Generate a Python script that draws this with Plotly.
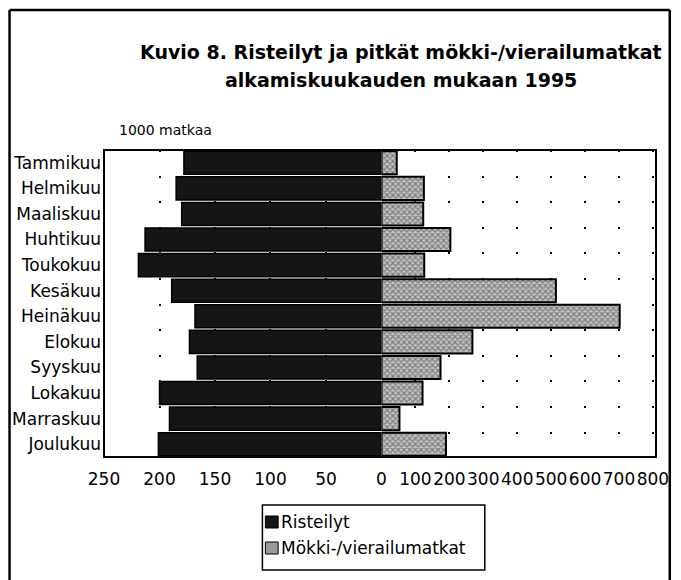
import plotly.graph_objects as go

months = ["Tammikuu", "Helmikuu", "Maaliskuu", "Huhtikuu", "Toukokuu", "Kesäkuu",
          "Heinäkuu", "Elokuu", "Syyskuu", "Lokakuu", "Marraskuu", "Joulukuu"]
risteilyt = [178, 185, 180, 213, 219, 189, 168, 173, 166, 200, 191, 201]
mokki = [45, 125, 123, 203, 126, 514, 702, 268, 174, 121, 53, 190]

left_ticks = [250, 200, 150, 100, 50, 0]
right_ticks = [100, 200, 300, 400, 500, 600, 700, 800]

title1 = "Kuvio 8. Risteilyt ja pitkät mökki-/vierailumatkat"
title2 = "alkamiskuukauden mukaan 1995"
unit_label = "1000 matkaa"
series_names = ["Risteilyt", "Mökki-/vierailumatkat"]

W, H = 681, 580
PL, PR, PT, PB = 104, 665, 150, 457  # plot area in screen pixels
L, R, T, B = PL, W - PR, PT, H - PB
PW = W - L - R
PH = H - T - B
SPLIT = (386 - PL) / PW


def px(x):
    return (x - PL) / PW


def py(y):
    return (PB - y) / PH


FONT = "DejaVu Sans"
BLACK_FILL = "#151515"

fig = go.Figure()
fig.add_trace(go.Bar(
    y=months, x=risteilyt, orientation="h", name=series_names[0],
    xaxis="x", yaxis="y",
    marker=dict(color=BLACK_FILL, line=dict(color="black", width=1.5)),
    showlegend=False,
))
fig.add_trace(go.Bar(
    y=months, x=mokki, orientation="h", name=series_names[1],
    xaxis="x2", yaxis="y",
    marker=dict(color="#b0b0b0", line=dict(color="black", width=2),
                pattern=dict(shape="x", fgcolor="#333333", bgcolor="#c4c4c4",
                             size=4, solidity=0.5)),
    showlegend=False,
))

grid = dict(showgrid=True, gridcolor="black", gridwidth=1.5, griddash="2px,23.6px")

fig.update_layout(
    width=W, height=H, autosize=False,
    margin=dict(l=L, r=R, t=T, b=B, pad=0),
    paper_bgcolor="white", plot_bgcolor="white",
    bargap=0.1,
    font=dict(family=FONT, color="black"),
    xaxis=dict(domain=[0, SPLIT], range=[250, 0], tickvals=left_ticks,
               ticktext=[str(v) for v in left_ticks], tickfont=dict(size=17),
               tickangle=0, ticks="", zeroline=False, showline=False,
               ticklabelstandoff=10, **grid),
    xaxis2=dict(domain=[SPLIT, 1], range=[0, 809], tickvals=right_ticks,
                ticktext=[str(v) for v in right_ticks], tickfont=dict(size=17),
                tickangle=0, ticks="", zeroline=False, showline=False, anchor="y",
                ticklabelstandoff=10, **grid),
    yaxis=dict(categoryorder="array", categoryarray=months, autorange="reversed",
               tickfont=dict(size=17), ticks="", showgrid=False, zeroline=False,
               showline=False, ticklabelstandoff=2),
)

shapes = [
    # plot frame
    dict(type="rect", xref="paper", yref="paper", x0=0, x1=1, y0=0, y1=1,
         line=dict(color="black", width=2)),
    # outer frame (left, top, right)
    dict(type="line", xref="paper", yref="paper", x0=px(8), x1=px(8), y0=py(10), y1=py(590),
         line=dict(color="black", width=2.5)),
    dict(type="line", xref="paper", yref="paper", x0=px(8), x1=px(679), y0=py(10), y1=py(10),
         line=dict(color="black", width=2.5)),
    dict(type="line", xref="paper", yref="paper", x0=px(679), x1=px(679), y0=py(10), y1=py(590),
         line=dict(color="black", width=2.5)),
    # legend box
    dict(type="rect", xref="paper", yref="paper", x0=px(265), x1=px(491), y0=py(505), y1=py(570),
         line=dict(color="black", width=1.5), fillcolor="white"),
    dict(type="rect", xref="paper", yref="paper", x0=px(268), x1=px(281), y0=py(516), y1=py(528),
         line=dict(color="black", width=1), fillcolor=BLACK_FILL),
    dict(type="rect", xref="paper", yref="paper", x0=px(268), x1=px(281), y0=py(542), y1=py(554),
         line=dict(color="black", width=1), fillcolor="#9a9a9a"),
]
fig.update_layout(shapes=shapes)

annotations = [
    dict(text=f"<b>{title1}</b>", x=px(406), y=py(52), xref="paper", yref="paper",
         xanchor="center", yanchor="middle", showarrow=False, font=dict(size=19)),
    dict(text=f"<b>{title2}</b>", x=px(406), y=py(80), xref="paper", yref="paper",
         xanchor="center", yanchor="middle", showarrow=False, font=dict(size=19)),
    dict(text=unit_label, x=px(117), y=py(130), xref="paper", yref="paper",
         xanchor="left", yanchor="middle", showarrow=False, font=dict(size=14)),
    dict(text=series_names[0], x=px(282), y=py(522), xref="paper", yref="paper",
         xanchor="left", yanchor="middle", showarrow=False, font=dict(size=17)),
    dict(text=series_names[1], x=px(282), y=py(548), xref="paper", yref="paper",
         xanchor="left", yanchor="middle", showarrow=False, font=dict(size=17)),
]
fig.update_layout(annotations=annotations)

fig.write_html(
    "out.html",
    config={"displayModeBar": False, "responsive": False},
    post_script="document.body.style.margin='0';document.body.style.overflow='hidden';"
                "document.documentElement.style.overflow='hidden';",
)
